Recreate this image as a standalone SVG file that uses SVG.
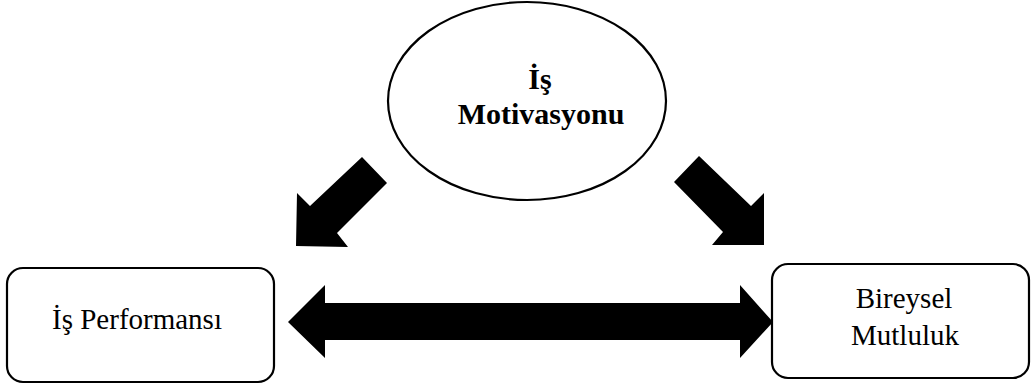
<svg xmlns="http://www.w3.org/2000/svg" width="1032" height="387" viewBox="0 0 1032 387">
<style>
.shape{fill:#fff;stroke:#000;stroke-width:2.2}
.t{font-family:"Liberation Serif","Times New Roman",serif;font-size:29px;fill:#000;text-anchor:middle}
.b{font-weight:bold;font-size:30px}
.arr{fill:#000;stroke:none}
</style>
<g id="connectors">
<polygon class="arr" points="362,157 387,183 337,233 348,247 296,246 297,193 310,206"/>
<polygon class="arr" points="699,156 751,206 764,193 764,245 712,245 723,232 674,182"/>
<polygon class="arr" points="288,322 325,285 325,303 740,303 740,285 773,322 740,358 740,340 325,340 325,358"/>
</g>
<g id="node-motivasyon">
<ellipse class="shape" cx="527" cy="101" rx="139" ry="99"/>
<text class="t b" x="540" y="89">İş</text>
<text class="t b" x="541" y="124">Motivasyonu</text>
</g>
<g id="node-performans">
<rect class="shape" x="7" y="268" width="267" height="114" rx="16"/>
<text class="t" x="137" y="329">İş Performansı</text>
</g>
<g id="node-mutluluk">
<rect class="shape" x="772" y="264" width="257" height="114" rx="16"/>
<text class="t" x="904" y="308">Bireysel</text>
<text class="t" x="905" y="345">Mutluluk</text>
</g>
</svg>
